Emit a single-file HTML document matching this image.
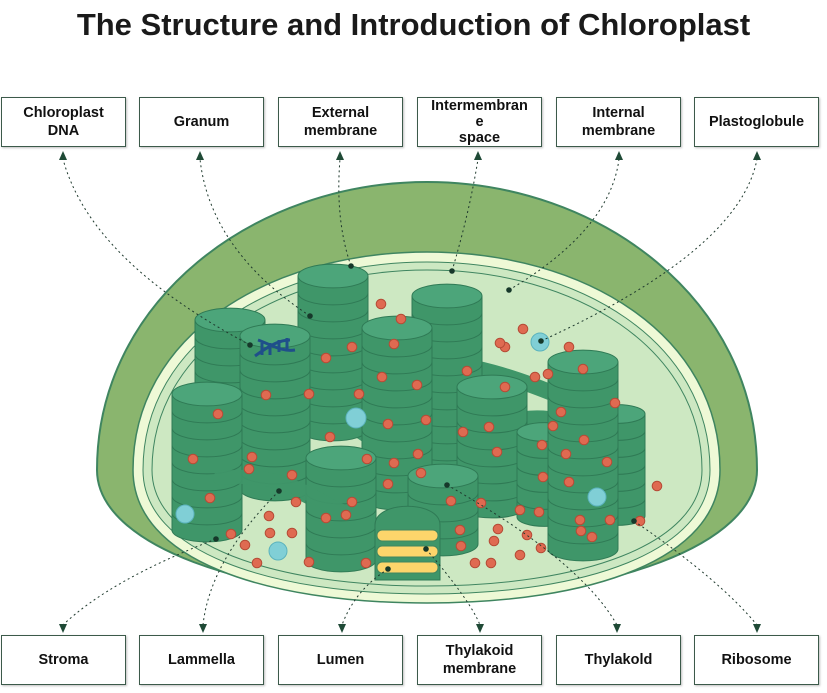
<!DOCTYPE html>
<html><head><meta charset="utf-8"><style>
html,body{margin:0;padding:0;background:#fff;width:827px;height:693px;overflow:hidden;font-family:"Liberation Sans",sans-serif}
.t{position:absolute;left:0;top:7px;width:827px;text-align:center;font-weight:bold;font-size:31px;color:#1a1a1a}
.b{position:absolute;width:125px;height:50px;border:1px solid #3c5a4a;box-sizing:border-box;display:flex;align-items:center;justify-content:center;text-align:center;font-weight:bold;font-size:14.5px;line-height:18px;color:#111;background:#fff;box-shadow:1px 1px 2px rgba(0,0,0,.25)}
svg{position:absolute;left:0;top:0}
</style></head><body>
<div class="t">The Structure and Introduction of Chloroplast</div>
<svg id="s" width="827" height="693" viewBox="0 0 827 693"></svg>
<div class="b" style="left:1px;top:97px">Chloroplast<br>DNA</div>
<div class="b" style="left:139px;top:97px">Granum</div>
<div class="b" style="left:278px;top:97px">External<br>membrane</div>
<div class="b" style="left:417px;top:97px;align-items:flex-start;line-height:16px">Intermembran<br>e<br>space</div>
<div class="b" style="left:556px;top:97px">Internal<br>membrane</div>
<div class="b" style="left:694px;top:97px">Plastoglobule</div>
<div class="b" style="left:1px;top:635px">Stroma</div>
<div class="b" style="left:139px;top:635px">Lammella</div>
<div class="b" style="left:278px;top:635px">Lumen</div>
<div class="b" style="left:417px;top:635px">Thylakoid<br>membrane</div>
<div class="b" style="left:556px;top:635px">Thylakold</div>
<div class="b" style="left:694px;top:635px">Ribosome</div>
<script>
var h='';
h+='<path d="M97,470 C97,300 255,182 427,182 C600,182 757,300 757,470 C757,545 610,598 427,598 C245,598 97,545 97,470Z" fill="#8ab56e" stroke="#3f8560" stroke-width="2"/>';
h+='<path d="M133,470 C133,335 270,252 427,252 C585,252 720,335 720,470 C720,560 590,603 427,603 C265,603 133,560 133,470Z" fill="#eef9d6" stroke="#3f8560" stroke-width="1.5"/>';
h+='<path d="M143,470 C143,342 275,262 427,262 C580,262 710,342 710,470 C710,552 585,594 427,594 C270,594 143,552 143,470Z" fill="#cde8c2" stroke="#3f8560" stroke-width="1"/>';
h+='<path d="M152,470 C152,348 280,270 427,270 C575,270 702,348 702,470 C702,545 580,586 427,586 C275,586 152,545 152,470Z" fill="none" stroke="#3f8560" stroke-width="1"/>';
function st(x,top,w,bot){var s='',d=17,ry=w*0.17,n=Math.round((bot-top-ry)/d);
 for(var i=n;i>=0;i--){var y=top+i*d;
  s+='<path d="M'+x+','+y+' v'+d+' a'+w/2+','+ry+' 0 0 0 '+w+',0 v-'+d+'Z" fill="#3f9669" stroke="#2f7a55" stroke-width="1"/>';}
 s+='<ellipse cx="'+(x+w/2)+'" cy="'+top+'" rx="'+w/2+'" ry="'+ry+'" fill="#4ca57a" stroke="#2f7a55" stroke-width="1"/>';return s;}
var L='fill="none" stroke="#3f9669" stroke-linecap="round"';
h+='<path d="M270,405 C330,400 350,430 380,440 C420,455 430,470 420,500" '+L+' stroke-width="16"/>';
h+='<path d="M220,480 C290,470 320,510 360,520" '+L+' stroke-width="16"/>';
h+='<path d="M400,360 C470,360 520,380 570,400" '+L+' stroke-width="16"/>';
h+='<path d="M430,450 C470,430 520,410 560,420" '+L+' stroke-width="14"/>';
h+='<path d="M470,510 C520,500 560,480 600,470" '+L+' stroke-width="14"/>';
h+='<path d="M330,380 C350,430 360,440 400,445" '+L+' stroke-width="14"/>';
h+=st(195,320,70,395)+st(298,276,70,420)+st(412,296,70,460)+st(240,336,70,480)+st(362,328,70,490)+st(457,387,70,500)+st(517,432,55,505)+st(590,414,55,512)+st(172,394,70,530)+st(548,362,70,545)+st(306,458,70,558)+st(408,476,70,535);
h+='<path d="M220,478 C290,470 320,505 345,512" '+L+' stroke-width="14" opacity="0.9"/>';
h+='<path d="M375,580 V525 C375,500 440,500 440,525 V580 Z" fill="#3f9669" stroke="#2f7a55"/>';
[536,552,568].forEach(function(y){h+='<rect x="377" y="'+(y-6)+'" width="61" height="11" rx="5" fill="#fcd56b" stroke="#3f8560"/>';});
h+='<g stroke="#1f4f8a" stroke-width="3" fill="none"><path d="M255,356 C270,345 280,340 290,340"/><path d="M258,340 C272,345 282,352 295,350"/><path d="M262,343v12M270,343v12M279,340v12M287,338v12"/></g>';
var r=[[381,304],[401,319],[523,329],[505,347],[569,347],[326,358],[352,347],[394,344],[500,343],[548,374],[535,377],[583,369],[417,385],[382,377],[467,371],[505,387],[266,395],[309,394],[359,394],[218,414],[561,412],[615,403],[388,424],[426,420],[463,432],[489,427],[553,426],[584,440],[330,437],[542,445],[193,459],[252,457],[367,459],[394,463],[418,454],[497,452],[566,454],[607,462],[292,475],[421,473],[249,469],[543,477],[388,484],[210,498],[296,502],[352,502],[451,501],[481,503],[569,482],[657,486],[520,510],[539,512],[346,515],[269,516],[292,533],[270,533],[326,518],[592,537],[581,531],[640,521],[231,534],[245,545],[498,529],[461,546],[494,541],[527,535],[541,548],[520,555],[309,562],[257,563],[366,563],[475,563],[491,563],[580,520],[610,520],[460,530]];
r.forEach(function(p){h+='<circle cx="'+p[0]+'" cy="'+p[1]+'" r="4.8" fill="#df6a51" stroke="#b54b36" stroke-width="1"/>';});
[[356,418,10],[185,514,9],[278,551,9],[597,497,9],[540,342,9]].forEach(function(p){h+='<circle cx="'+p[0]+'" cy="'+p[1]+'" r="'+p[2]+'" fill="#80cfd6" stroke="#5bb3bd"/>';});
var c=[[63,151,250,345,90,260],[200,151,310,316,210,250],[340,151,351,266,335,220],[478,151,452,271,470,210],[619,151,509,290,610,230],[757,151,541,341,740,250],
[63,633,216,539,110,580],[203,633,279,491,210,560],[342,633,388,569,355,590],[480,633,426,549,470,600],[617,633,447,485,580,560],[757,633,634,521,720,580]];
c.forEach(function(a){h+='<path d="M'+a[2]+','+a[3]+' Q'+a[4]+','+a[5]+' '+a[0]+','+(a[1]<300?a[1]+8:a[1]-8)+'" fill="none" stroke="#1f3a2e" stroke-width="1" stroke-dasharray="2,3"/>';
 var y=a[1],s=a[1]<300?1:-1;h+='<path d="M'+a[0]+','+y+' l-4,'+(9*s)+' h8Z" fill="#1f4a36"/>';
 h+='<circle cx="'+a[2]+'" cy="'+a[3]+'" r="2.8" fill="#16382a"/>';});
document.getElementById('s').innerHTML=h;
</script>
</body></html>
